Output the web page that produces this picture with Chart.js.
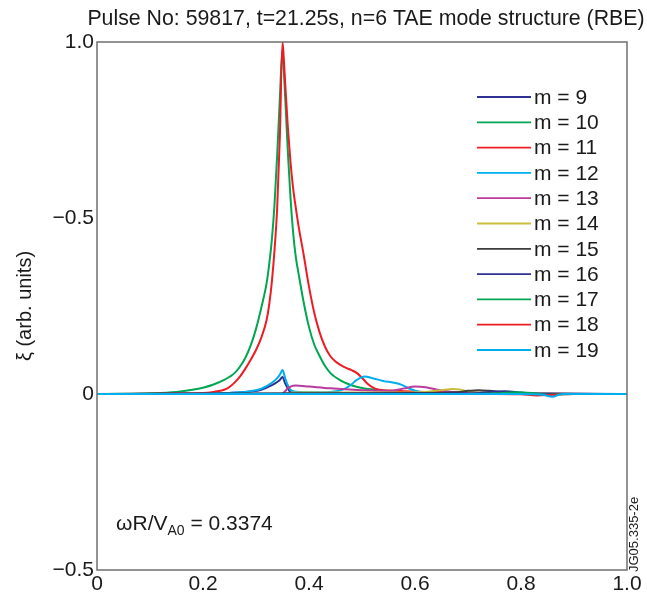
<!DOCTYPE html>
<html><head><meta charset="utf-8">
<script src="https://cdn.jsdelivr.net/npm/chart.js@4.4.1/dist/chart.umd.min.js"></script>
<style>html,body{margin:0;padding:0;background:#fff}#wrap{width:647px;height:595px}</style>
</head><body><div id="wrap"><canvas id="c" width="647" height="595"></canvas></div>
<script>
const titleText = 'Pulse No: 59817, t=21.25s, n=6 TAE mode structure (RBE)';
const yAxisTitle = '\u03be (arb. units)';
const noteMain = '\u03c9R/V';
const noteSub = 'A0';
const noteTail = ' = 0.3374';
const figCode = 'JG05.335-2e';
const xTickValues = [0, 0.2, 0.4, 0.6, 0.8, 1.0];
const xTickLabels = ['0', '0.2', '0.4', '0.6', '0.8', '1.0'];
const yTickValues = [-0.5, 0, 0.5, 1.0];
const yTickLabels = ['\u22120.5', '0', '\u22120.5', '1.0'];
const modeLabels = ['m = 9','m = 10','m = 11','m = 12','m = 13','m = 14','m = 15','m = 16','m = 17','m = 18','m = 19'];
const modeColors = ['#2e3192','#00a651','#ed1c24','#00aeef','#b83b9e','#c9be3e','#3d3d3d','#2e3192','#00a651','#ed1c24','#00aeef'];

const r_m9  = [0, 0.20, 0.25, 0.29, 0.31, 0.33, 0.34, 0.345, 0.35, 0.355, 0.36, 0.365, 0.40, 0.50, 1.0];
const xi_m9 = [0, 0.001, 0.003, 0.007, 0.012, 0.025, 0.034, 0.04, 0.048, 0.03, 0.016, 0.006, 0.002, 0.001, 0];

const r_m10  = [0, 0.05, 0.10, 0.15, 0.18, 0.20, 0.22, 0.24, 0.25, 0.26, 0.27, 0.28, 0.29, 0.30, 0.31, 0.32, 0.325, 0.33, 0.335, 0.34, 0.345, 0.35, 0.3525, 0.355, 0.36, 0.365, 0.37, 0.375, 0.38, 0.39, 0.40, 0.41, 0.42, 0.43, 0.44, 0.46, 0.48, 0.50, 0.53, 0.56, 0.60, 0.70, 1.0];
const xi_m10 = [0, 0.0005, 0.002, 0.006, 0.012, 0.018, 0.027, 0.04, 0.049, 0.06, 0.078, 0.103, 0.138, 0.185, 0.245, 0.315, 0.37, 0.44, 0.54, 0.68, 0.84, 0.98, 0.92, 0.845, 0.69, 0.56, 0.46, 0.39, 0.345, 0.26, 0.19, 0.14, 0.108, 0.08, 0.06, 0.038, 0.025, 0.017, 0.011, 0.007, 0.004, 0.001, 0];

const r_m11  = [0, 0.05, 0.10, 0.15, 0.20, 0.22, 0.24, 0.25, 0.26, 0.27, 0.28, 0.29, 0.30, 0.31, 0.32, 0.325, 0.33, 0.335, 0.34, 0.345, 0.35, 0.3525, 0.355, 0.36, 0.365, 0.37, 0.375, 0.38, 0.39, 0.40, 0.41, 0.42, 0.43, 0.44, 0.45, 0.46, 0.47, 0.48, 0.49, 0.50, 0.51, 0.52, 0.53, 0.54, 0.56, 0.58, 0.62, 0.70, 0.80, 1.0];
const xi_m11 = [0, 0.0003, 0.001, 0.002, 0.003, 0.006, 0.012, 0.02, 0.033, 0.05, 0.072, 0.097, 0.125, 0.16, 0.21, 0.255, 0.32, 0.41, 0.53, 0.73, 1.0, 0.95, 0.885, 0.76, 0.66, 0.585, 0.53, 0.48, 0.395, 0.305, 0.23, 0.175, 0.135, 0.108, 0.092, 0.082, 0.074, 0.068, 0.06, 0.046, 0.03, 0.019, 0.013, 0.011, 0.009, 0.008, 0.006, 0.004, 0.001, 0];

const r_m12  = [0, 0.20, 0.25, 0.29, 0.31, 0.33, 0.34, 0.345, 0.35, 0.355, 0.36, 0.365, 0.37, 0.40, 0.44, 0.465, 0.48, 0.49, 0.505, 0.52, 0.54, 0.56, 0.575, 0.59, 0.61, 0.65, 0.75, 1.0];
const xi_m12 = [0, 0.001, 0.003, 0.008, 0.015, 0.032, 0.045, 0.055, 0.068, 0.045, 0.025, 0.012, 0.008, 0.005, 0.006, 0.013, 0.027, 0.04, 0.05, 0.045, 0.037, 0.032, 0.026, 0.015, 0.006, 0.002, 0.001, 0];

const r_m13  = [0, 0.345, 0.35, 0.355, 0.36, 0.365, 0.375, 0.40, 0.44, 0.50, 0.54, 0.56, 0.58, 0.60, 0.62, 0.64, 0.67, 0.70, 1.0];
const xi_m13 = [0, 0, 0.001, 0.008, 0.016, 0.021, 0.024, 0.021, 0.016, 0.011, 0.009, 0.01, 0.016, 0.021, 0.019, 0.013, 0.006, 0.002, 0];

const r_m14  = [0, 0.35, 0.37, 0.45, 0.55, 0.62, 0.65, 0.67, 0.69, 0.71, 0.74, 1.0];
const xi_m14 = [0, 0, 0.004, 0.004, 0.004, 0.006, 0.011, 0.014, 0.011, 0.005, 0.001, 0];

const r_m15  = [0, 0.40, 0.60, 0.68, 0.70, 0.72, 0.74, 0.77, 0.80, 1.0];
const xi_m15 = [0, 0.002, 0.003, 0.005, 0.009, 0.011, 0.009, 0.004, 0.001, 0];

const r_m16  = [0, 0.60, 0.72, 0.75, 0.77, 0.80, 0.83, 1.0];
const xi_m16 = [0, 0.001, 0.003, 0.007, 0.008, 0.004, 0.001, 0];

const r_m17  = [0, 0.70, 0.76, 0.79, 0.82, 0.85, 0.87, 0.90, 1.0];
const xi_m17 = [0, 0, 0.002, 0.005, 0.003, -0.002, -0.001, 0, 0];

const r_m18  = [0, 0.75, 0.80, 0.83, 0.86, 0.90, 1.0];
const xi_m18 = [0, 0, -0.001, -0.004, -0.002, 0, 0];

const r_m19  = [0, 0.80, 0.84, 0.86, 0.87, 0.88, 0.90, 1.0];
const xi_m19 = [0, 0, -0.002, -0.008, -0.003, 0, 0, 0];

const radii = [r_m9, r_m10, r_m11, r_m12, r_m13, r_m14, r_m15, r_m16, r_m17, r_m18, r_m19];
const amps  = [xi_m9, xi_m10, xi_m11, xi_m12, xi_m13, xi_m14, xi_m15, xi_m16, xi_m17, xi_m18, xi_m19];

const FONT = "'Liberation Sans', Arial, Helvetica, sans-serif";
const TXT = '#1a1a1a';

const datasets = modeLabels.map((lab, i) => ({
  label: lab,
  data: radii[i].map((r, k) => ({x: r, y: amps[i][k]})),
  borderColor: modeColors[i],
  backgroundColor: modeColors[i],
  borderWidth: 2,
  pointRadius: 0,
  fill: false,
  cubicInterpolationMode: 'monotone',
  order: -i
}));

const extras = {
  id: 'extras',
  afterDatasetsDraw(chart) {
    const ctx = chart.ctx, a = chart.chartArea;
    const xs = chart.scales.x, ys = chart.scales.y;
    ctx.save();
    ctx.strokeStyle = '#6f6f6f';
    ctx.lineWidth = 1.5;
    ctx.strokeRect(a.left, a.top, a.right - a.left, a.bottom - a.top);
    ctx.fillStyle = TXT;
    ctx.font = '21.3px ' + FONT;
    ctx.textAlign = 'center';
    ctx.textBaseline = 'middle';
    ctx.fillText(titleText, 366, 19);
    ctx.font = '21px ' + FONT;
    ctx.textBaseline = 'middle';
    ctx.textAlign = 'left';
    chart.data.datasets.forEach((ds, i) => {
      const y = 97 + i * 25.3;
      ctx.strokeStyle = ds.borderColor;
      ctx.lineWidth = 1.8;
      ctx.beginPath(); ctx.moveTo(477, y); ctx.lineTo(531, y); ctx.stroke();
      ctx.fillStyle = TXT;
      ctx.fillText(ds.label, 534, y + 1);
    });
    const nx = xs.getPixelForValue(0.036), ny = ys.getPixelForValue(-0.385);
    ctx.textBaseline = 'alphabetic';
    ctx.font = '21px ' + FONT;
    ctx.fillText(noteMain, nx, ny);
    let w = ctx.measureText(noteMain).width;
    ctx.font = '14px ' + FONT;
    ctx.fillText(noteSub, nx + w, ny + 5);
    w += ctx.measureText(noteSub).width;
    ctx.font = '21px ' + FONT;
    ctx.fillText(noteTail, nx + w, ny);
    ctx.save();
    ctx.translate(634, 572);
    ctx.rotate(-Math.PI / 2);
    ctx.font = '13px ' + FONT;
    ctx.textBaseline = 'middle';
    ctx.textAlign = 'left';
    ctx.fillText(figCode, 0, 0);
    ctx.restore();
    ctx.restore();
  }
};

new Chart(document.getElementById('c'), {
  type: 'line',
  data: { datasets },
  plugins: [extras],
  options: {
    responsive: false,
    animation: false,
    devicePixelRatio: 1,
    layout: { padding: { left: 0, right: 20, top: 42, bottom: 0 } },
    plugins: {
      legend: { display: false },
      tooltip: { enabled: false },
      title: { display: false }
    },
    scales: {
      x: {
        type: 'linear', min: 0, max: 1,
        grid: { display: false, drawTicks: false },
        border: { display: false },
        afterBuildTicks: s => { s.ticks = xTickValues.map(v => ({ value: v })); },
        afterFit: s => { s.height = 25; },
        ticks: {
          color: TXT, padding: 4, maxRotation: 0, autoSkip: false,
          font: { family: FONT, size: 21, lineHeight: 1 },
          callback: v => xTickLabels[xTickValues.indexOf(v)]
        }
      },
      y: {
        type: 'linear', min: -0.5, max: 1.0,
        grid: { display: false, drawTicks: false },
        border: { display: false },
        afterBuildTicks: s => { s.ticks = yTickValues.map(v => ({ value: v })); },
        afterFit: s => { s.width = 97; },
        title: {
          display: true, text: yAxisTitle, color: TXT,
          font: { family: FONT, size: 20 }, padding: { top: 13, bottom: 0 }
        },
        ticks: {
          color: TXT, padding: 3, autoSkip: false,
          font: { family: FONT, size: 21 },
          callback: v => yTickLabels[yTickValues.indexOf(v)]
        }
      }
    }
  }
});
</script>
</body></html>
